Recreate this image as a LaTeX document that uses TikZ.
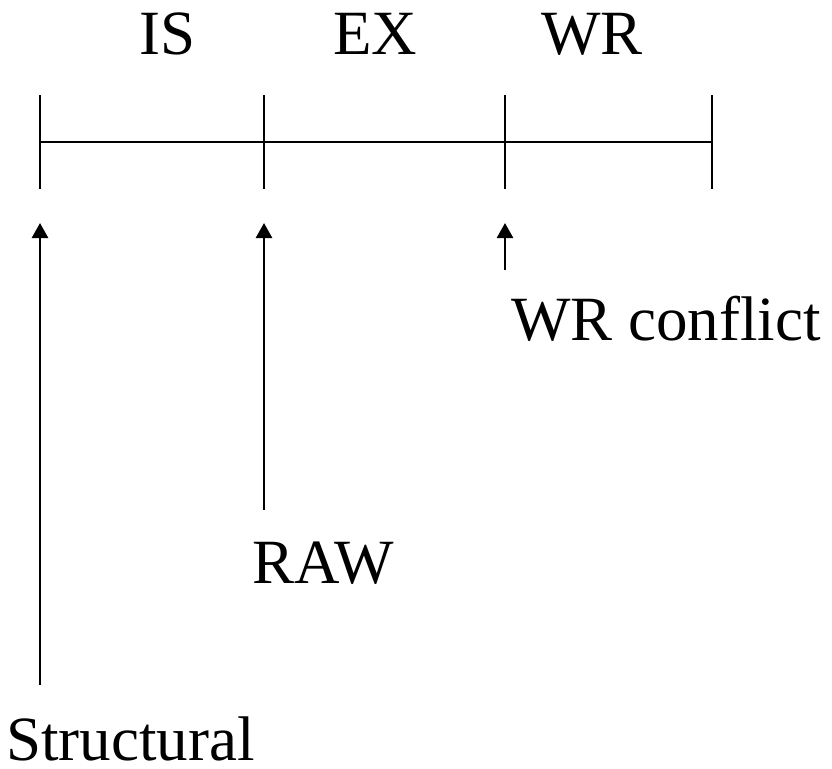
\documentclass[tikz,border=0pt]{standalone}
\usepackage{fontspec}
\setmainfont{Liberation Serif}
\usetikzlibrary{arrows.meta}
\begin{document}
\begin{tikzpicture}[x=1pt,y=-1pt,
  lbl/.style={inner sep=0pt,font=\fontsize{63}{75}\selectfont},
  rule/.style={line width=2.3pt},
  arr/.style={line width=2.6pt,-{Triangle[length=15pt,width=16pt]}}]
\useasboundingbox (0,0) rectangle (832,768);
% timeline
\coordinate (h0) at (40,142);
\coordinate (h3) at (712,142);
\draw[rule] (h0) -- (h3);
\foreach \x/\n in {40/t0,264/t1,505/t2,712/t3}{
  \coordinate (\n top) at (\x,95);
  \coordinate (\n bot) at (\x,189);
  \draw[rule] (\n top) -- (\n bot);
}
% stage labels
\node[lbl,anchor=base] (is) at (168,55) {IS};
\node[lbl,anchor=base] (ex) at (375,55) {EX};
\node[lbl,anchor=base] (wr) at (592,55) {WR};
% hazard labels
\node[lbl,anchor=base west] (wrc) at (511,340) {WR conflict};
\node[lbl,anchor=base west] (raw) at (252,583) {RAW};
\node[lbl,anchor=base west] (str) at (6,760) {Structural};
% arrows
\coordinate (a0s) at (40,685);
\coordinate (a0e) at (40,223);
\coordinate (a1s) at (264,510);
\coordinate (a1e) at (264,223);
\coordinate (a2s) at (505,270);
\coordinate (a2e) at (505,223);
\draw[arr] (a0s) -- (a0e);
\draw[arr] (a1s) -- (a1e);
\draw[arr] (a2s) -- (a2e);
\end{tikzpicture}
\end{document}
